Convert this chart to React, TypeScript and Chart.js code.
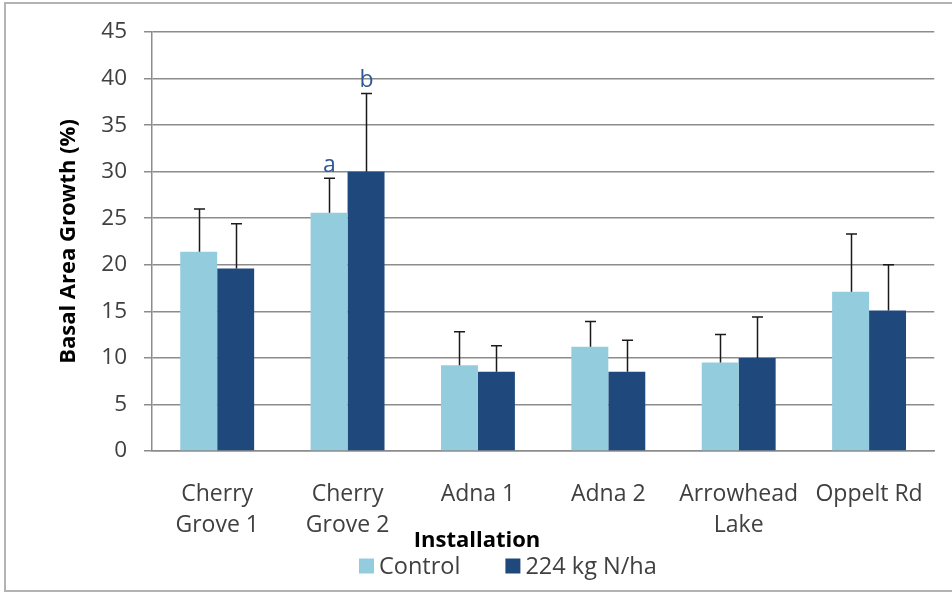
import React, { useEffect, useRef } from "react";
import { Chart, registerables } from "chart.js";

Chart.register(...registerables);

const categories: string[][] = [
  ["Cherry", "Grove 1"],
  ["Cherry", "Grove 2"],
  ["Adna 1"],
  ["Adna 2"],
  ["Arrowhead", "Lake"],
  ["Oppelt Rd"],
];
const seriesNames = ["Control", "224 kg N/ha"];
const controlValues = [21.4, 25.6, 9.2, 11.2, 9.5, 17.1];
const controlErrors = [4.6, 3.7, 3.6, 2.7, 3.0, 6.2];
const nitrogenValues = [19.6, 30.0, 8.5, 8.5, 10.0, 15.1];
const nitrogenErrors = [4.8, 8.4, 2.8, 3.4, 4.4, 4.9];
const controlLetters = ["", "a", "", "", "", ""];
const nitrogenLetters = ["", "b", "", "", "", ""];
const yTicks = [0, 5, 10, 15, 20, 25, 30, 35, 40, 45];
const xTitle = "Installation";
const yTitle = "Basal Area Growth (%)";

const COLORS = ["#93CDDD", "#1F497D"];
const FONT = "'Open Sans', 'DejaVu Sans', sans-serif";
const TEXT = "#404040";
const GRID = "#8C8C8C";

const errorBarPlugin = {
  id: "errorBars",
  beforeDraw(chart: any) {
    const { ctx } = chart;
    ctx.save();
    ctx.strokeStyle = "#B3B3B3";
    ctx.lineWidth = 2;
    ctx.strokeRect(5, 3, chart.width + 10, 588);
    ctx.restore();
  },
  afterDatasetsDraw(chart: any) {
    const { ctx } = chart;
    const yScale = chart.scales.y;
    const errs = [controlErrors, nitrogenErrors];
    const letters = [controlLetters, nitrogenLetters];
    ctx.save();
    chart.data.datasets.forEach((ds: any, di: number) => {
      const meta = chart.getDatasetMeta(di);
      meta.data.forEach((bar: any, i: number) => {
        const v = ds.data[i];
        const top = yScale.getPixelForValue(v + errs[di][i]);
        const base = yScale.getPixelForValue(v);
        const x = Math.round(bar.x) + 0.5;
        ctx.strokeStyle = "#1A1A1A";
        ctx.lineWidth = 1.5;
        ctx.beginPath();
        ctx.moveTo(x, base);
        ctx.lineTo(x, top);
        ctx.moveTo(x - 5.5, top);
        ctx.lineTo(x + 5.5, top);
        ctx.stroke();
        const L = letters[di][i];
        if (L) {
          ctx.fillStyle = "#2F5796";
          ctx.font = `23px ${FONT}`;
          ctx.textAlign = "center";
          ctx.textBaseline = "alphabetic";
          ctx.fillText(L, x, top - 6);
        }
      });
    });
    ctx.restore();
  },
  afterDraw(chart: any) {
    const { ctx } = chart;
    ctx.save();
    ctx.fillStyle = "#000000";
    ctx.font = `bold 22px ${FONT}`;
    ctx.textAlign = "center";
    ctx.textBaseline = "middle";
    ctx.fillText(xTitle, 477, 541);
    ctx.font = `23.5px ${FONT}`;
    ctx.textAlign = "left";
    let x = 359;
    const cy = 566;
    seriesNames.forEach((name, i) => {
      ctx.fillStyle = COLORS[i];
      ctx.fillRect(x, cy - 7.5, 15, 15);
      x += 20;
      ctx.fillStyle = TEXT;
      ctx.fillText(name, x, cy + 1);
      x += ctx.measureText(name).width + 45;
    });
    ctx.restore();
  },
};

export default function App() {
  const ref = useRef<HTMLCanvasElement>(null);
  useEffect(() => {
    document.body.style.margin = "0";
    const chart = new Chart(ref.current!, {
      type: "bar",
      data: {
        labels: categories,
        datasets: [
          { label: seriesNames[0], data: controlValues, backgroundColor: COLORS[0], borderWidth: 0 },
          { label: seriesNames[1], data: nitrogenValues, backgroundColor: COLORS[1], borderWidth: 0 },
        ],
      },
      options: {
        animation: false,
        responsive: false,
        devicePixelRatio: 1,
        layout: { padding: { left: 0, top: 32, right: 16, bottom: 0 } },
        datasets: { bar: { categoryPercentage: 0.567, barPercentage: 1.0 } },
        plugins: { legend: { display: false }, tooltip: { enabled: false } },
        scales: {
          x: {
            grid: { display: false, drawTicks: false },
            border: { display: true, color: GRID, width: 1.5 },
            ticks: {
              color: TEXT,
              font: { family: FONT, size: 23, lineHeight: 1.35 },
              padding: 28,
              maxRotation: 0,
              autoSkip: false,
            },
            afterFit: (s: any) => { s.height = 141; },
          },
          y: {
            min: 0,
            max: 45,
            afterBuildTicks: (s: any) => { s.ticks = yTicks.map((v) => ({ value: v })); },
            grid: { color: GRID, lineWidth: 1.5, tickLength: 8 },
            border: { display: true, color: GRID, width: 1.5 },
            ticks: {
              color: TEXT,
              font: { family: FONT, size: 22.5 },
              padding: 17,
            },
            title: {
              display: true,
              text: yTitle,
              color: "#000000",
              font: { family: FONT, size: 22, weight: "bold", lineHeight: 1.2 },
              padding: { top: 56, bottom: 0 },
            },
            afterFit: (s: any) => { s.width = 152; },
          },
        },
      },
      plugins: [errorBarPlugin],
    });
    return () => chart.destroy();
  }, []);
  return (
    <div style={{ width: 952, height: 592 }}>
      <canvas ref={ref} width={952} height={592} style={{ display: "block" }} />
    </div>
  );
}
